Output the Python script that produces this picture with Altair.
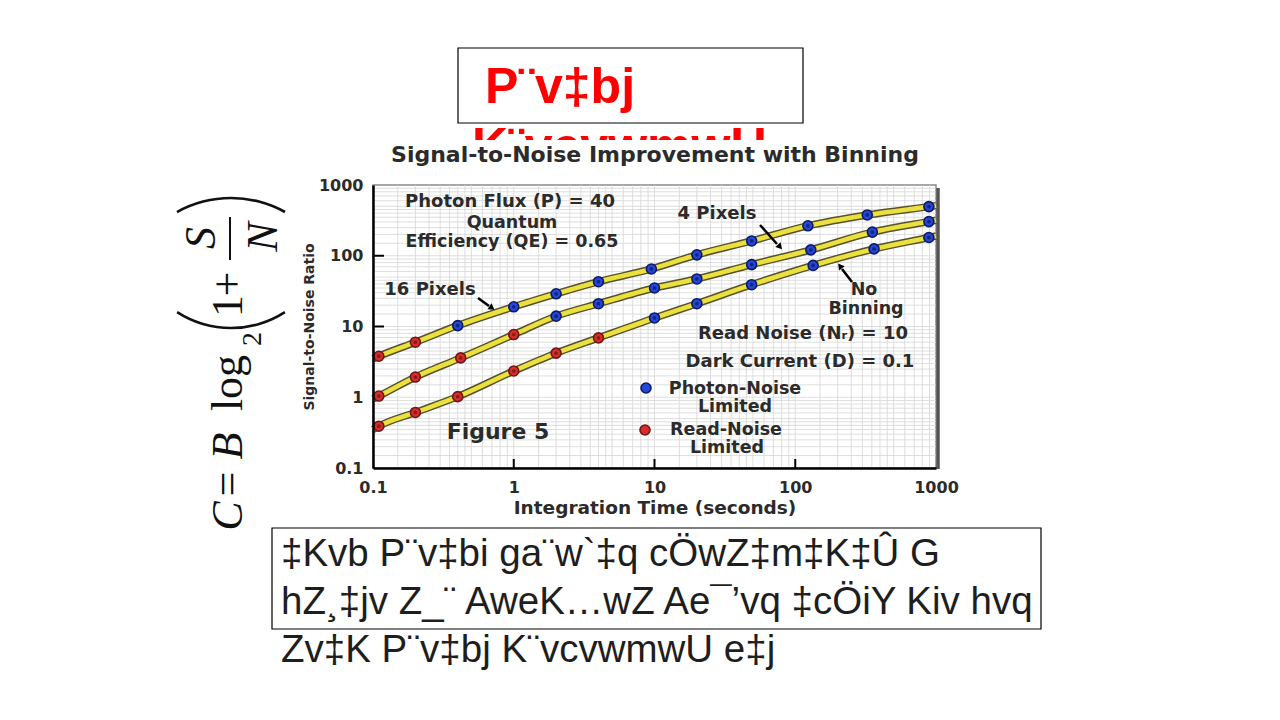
import altair as alt
import pandas as pd

# ---------------- data ----------------
series_names = ["No Binning", "4 Pixels", "16 Pixels"]

t_nobin = [0.11, 0.2, 0.4, 1, 2, 4, 10, 20, 49, 134, 363, 890]
snr_nobin = [0.39, 0.61, 1.02, 2.35, 4.2, 6.9, 13.2, 21, 39, 73, 125, 181]
kind_nobin = ["read", "read", "read", "read", "read", "read",
              "photon", "photon", "photon", "photon", "photon", "photon"]

t_4px = [0.11, 0.2, 0.42, 1, 2, 4, 10, 20, 49, 129, 353, 890]
snr_4px = [1.04, 1.93, 3.6, 7.7, 14, 21, 35, 47, 75, 121, 216, 304]
kind_4px = ["read", "read", "read", "read",
            "photon", "photon", "photon", "photon", "photon", "photon", "photon", "photon"]

t_16px = [0.11, 0.2, 0.4, 1, 2, 4, 9.5, 20, 49, 123, 325, 890]
snr_16px = [3.8, 6.0, 10.3, 19, 29, 43, 65, 103, 162, 265, 377, 495]
kind_16px = ["read", "read",
             "photon", "photon", "photon", "photon", "photon", "photon", "photon", "photon", "photon", "photon"]

line_start_t = 0.1
line_end_t = 1000
line_start_snr = [0.35, 0.95, 3.5]
line_end_snr = [190, 317, 511]

tick_values = [0.1, 1, 10, 100, 1000]
inner_ticks = [1, 10, 100]
grid_multipliers = [1, 1.5, 2, 2.5, 3, 3.5, 4, 4.5, 5, 6, 7, 8, 9]
grid_decades = [0.1, 1, 10, 100]

slide_title_1 = "P¨v‡bj"
slide_title_2 = "K¨vcvwmwU"
chart_title = "Signal-to-Noise Improvement with Binning"
x_title = "Integration Time (seconds)"
y_title = "Signal-to-Noise Ratio"
body_lines = ["‡Kvb P¨v‡bi ga¨w`‡q cÖwZ‡m‡K‡Û G",
              "hZ¸‡jv Z_¨ AweK…wZ Ae¯’vq ‡cÖiY Kiv hvq",
              "Zv‡K P¨v‡bj K¨vcvwmwU e‡j"]

# ---------------- tables ----------------
rows_line, rows_mk = [], []
for name, ts, ss, ks, s0, s1 in zip(series_names,
                                    [t_nobin, t_4px, t_16px],
                                    [snr_nobin, snr_4px, snr_16px],
                                    [kind_nobin, kind_4px, kind_16px],
                                    line_start_snr, line_end_snr):
    rows_line.append({"series": name, "t": line_start_t, "snr": s0})
    for t, s, k in zip(ts, ss, ks):
        rows_line.append({"series": name, "t": t, "snr": s})
        rows_mk.append({"series": name, "t": t, "snr": s, "kind": k})
    rows_line.append({"series": name, "t": line_end_t, "snr": s1})
lines_df = pd.DataFrame(rows_line)
mk_df = pd.DataFrame(rows_mk)

grid_vals = [m * d for d in grid_decades for m in grid_multipliers if m * d > 0.1]
grid_df_x = pd.DataFrame({"gx": grid_vals})
grid_df_y = pd.DataFrame({"gy": grid_vals})
dummy = pd.DataFrame({"a": [0]})

# ---------------- styles ----------------
W, H = 563, 283
FONT = "DejaVu Sans"
TXT = "#2b2b2b"
xs = alt.Scale(type="log", domain=[0.1, 1000], nice=False)
ys = alt.Scale(type="log", domain=[0.1, 1000], nice=False)

xaxis = alt.Axis(values=tick_values, format="~g", grid=False, ticks=False,
                 labelPadding=11, labelFont=FONT, labelFontWeight="bold",
                 labelFontSize=16, labelColor=TXT, labelFlush=False,
                 domainColor="black", domainWidth=2.5, zindex=1,
                 title=x_title, titleFont=FONT, titleFontSize=18.5,
                 titleFontWeight="bold", titleColor=TXT, titlePadding=3)
yaxis = alt.Axis(values=tick_values, format="~g", grid=False, ticks=False,
                 labelPadding=10, labelFont=FONT, labelFontWeight="bold",
                 labelFontSize=16, labelColor=TXT, labelFlush=False,
                 domainColor="black", domainWidth=2.5, zindex=1,
                 title=y_title, titleFont=FONT, titleFontSize=14,
                 titleFontWeight="bold", titleColor=TXT, titlePadding=2)


def X(f):
    return alt.X(f, type="quantitative", scale=xs, axis=xaxis)


def Y(f):
    return alt.Y(f, type="quantitative", scale=ys, axis=yaxis)


def txt(s, x, y, size=17.5, font=FONT, weight="bold", color=TXT, align="center",
        baseline="middle", angle=0, style="normal"):
    return alt.Chart(dummy).mark_text(
        text=s, font=font, fontSize=size, fontWeight=weight, color=color,
        align=align, baseline=baseline, angle=angle, fontStyle=style
    ).encode(x=alt.value(x), y=alt.value(y))


def box(x1, x2, y1, y2, fill="white", stroke="black", sw=1.2):
    return alt.Chart(dummy).mark_rect(fill=fill, stroke=stroke, strokeWidth=sw).encode(
        x=alt.value(x1), x2=alt.value(x2), y=alt.value(y1), y2=alt.value(y2))


def seg(x1, y1, x2, y2, color="black", sw=2.5):
    return alt.Chart(dummy).mark_rule(color=color, strokeWidth=sw).encode(
        x=alt.value(x1), y=alt.value(y1), x2=alt.value(x2), y2=alt.value(y2))


def head(x, y, angle, size=50):
    return alt.Chart(dummy).mark_point(shape="triangle-up", filled=True, color="black",
                                       size=size, angle=angle, opacity=1).encode(
        x=alt.value(x), y=alt.value(y))


def arc(cx, cy, r, t1, t2, w=2.6):
    return alt.Chart(dummy).mark_arc(color="#111").encode(
        x=alt.value(cx), y=alt.value(cy), theta=alt.value(t1), theta2=alt.value(t2),
        radius=alt.value(r + w / 2), radius2=alt.value(r - w / 2))


# ---------------- slide elements ----------------
title_box = box(85, 430, -137, -62)
red1 = txt(slide_title_1, 112, -82, size=50, font="Liberation Sans", color="#ff0000",
           align="left", baseline="alphabetic")
red2 = txt(slide_title_2, 99, -22, size=50, font="Liberation Sans", color="#ff0000",
           align="left", baseline="alphabetic")
mask = box(0, 560, -45, -10, fill="white", stroke="white", sw=0)
ctitle = txt(chart_title, 282, -30, size=22)

# ---------------- plot ----------------
xgrid = alt.Chart(grid_df_x).mark_rule(color="#d6d6d6", strokeWidth=0.8).encode(x=X("gx"))
ygrid = alt.Chart(grid_df_y).mark_rule(color="#d6d6d6", strokeWidth=0.8).encode(y=Y("gy"))
xticks = alt.Chart(pd.DataFrame({"tx": inner_ticks})).mark_rule(color="black", strokeWidth=2).encode(
    x=X("tx"), y=alt.value(H), y2=alt.value(H - 9))
yticks = alt.Chart(pd.DataFrame({"ty": inner_ticks})).mark_rule(color="black", strokeWidth=2).encode(
    y=Y("ty"), x=alt.value(0), x2=alt.value(11))
shadow_r = seg(W + 2, 3, W + 2, H + 1, color="#555555", sw=3.5)

line_out = alt.Chart(lines_df).mark_line(interpolate="monotone", strokeWidth=7.5,
                                         color="#55522f").encode(
    x=X("t"), y=Y("snr"), detail="series:N")
line_in = alt.Chart(lines_df).mark_line(interpolate="monotone", strokeWidth=4.6,
                                        color="#ebe03c").encode(
    x=X("t"), y=Y("snr"), detail="series:N")
markers = alt.Chart(mk_df).mark_point(filled=True, size=100, strokeWidth=1.6, opacity=1).encode(
    x=X("t"), y=Y("snr"),
    fill=alt.Fill("kind:N", scale=alt.Scale(domain=["photon", "read"],
                                            range=["#2447d8", "#db2a2a"]), legend=None),
    stroke=alt.Stroke("kind:N", scale=alt.Scale(domain=["photon", "read"],
                                                range=["#0d1a66", "#6e1616"]), legend=None))
centers = alt.Chart(mk_df).mark_point(filled=True, size=14, opacity=1).encode(
    x=X("t"), y=Y("snr"),
    color=alt.Color("kind:N", scale=alt.Scale(domain=["photon", "read"],
                                              range=["#14237e", "#7a2414"]), legend=None))

# ---------------- annotations ----------------
ann = [
    txt("Photon Flux (P) = 40", 137, 17, size=18),
    txt("Quantum", 139, 38),
    txt("Efficiency (QE) = 0.65", 139, 57),
    txt("16 Pixels", 57, 105, size=18),
    txt("4 Pixels", 344, 29, size=18),
    txt("No", 491, 105),
    txt("Binning", 493, 124),
    txt("Read Noise (Nᵣ) = 10", 430, 149, size=18),
    txt("Dark Current (D) = 0.1", 427, 177, size=18),
    txt("Photon-Noise", 362, 204),
    txt("Limited", 362, 222),
    txt("Read-Noise", 353, 245),
    txt("Limited", 354, 263),
    txt("Figure 5", 125, 247, size=22),
    seg(105, 113, 116, 121), head(119, 123, 125),
    seg(387, 40, 404, 59), head(407, 62, 138),
    seg(479, 97, 469, 84), head(467, 81, 323),
    alt.Chart(dummy).mark_point(filled=True, size=100, color="#2447d8", stroke="#0d1a66",
                                strokeWidth=1.6, opacity=1).encode(x=alt.value(273), y=alt.value(203)),
    alt.Chart(dummy).mark_point(filled=True, size=100, color="#db2a2a", stroke="#6e1616",
                                strokeWidth=1.6, opacity=1).encode(x=alt.value(272), y=alt.value(245)),
]

# ---------------- formula (rotated) ----------------
SER = "Liberation Serif"


def ftxt(s, x, y, size=44, style="normal"):
    return txt(s, x, y, size=size, font=SER, weight="normal", color="#111", angle=270,
               baseline="alphabetic", style=style)


formula = [
    ftxt("C", -131, 331, style="italic"),
    ftxt("=", -131, 299),
    ftxt("B", -131, 261, style="italic"),
    ftxt("log", -131, 198),
    ftxt("2", -112, 154, size=28),
    ftxt("1", -131, 121),
    ftxt("+", -131, 99),
    ftxt("S", -158, 53, style="italic"),
    ftxt("N", -96, 52, style="italic"),
    seg(-143, 32, -143, 75, color="#111", sw=2),
    arc(-142, 44, 99, 2.566, 3.717),
    arc(-142, 124, 111, 5.775, 6.791),
]

# ---------------- body text ----------------
body = [box(-101, 668, 343, 444, fill="white", stroke="black", sw=1.2)]
for i, s in enumerate(body_lines):
    body.append(txt(s, -92, 381 + 48 * i, size=38.5, font="Liberation Sans", weight="normal",
                    color="#1e1e1e", align="left", baseline="alphabetic"))

chart = alt.layer(
    title_box, red1, red2, mask, ctitle,
    xgrid, ygrid, xticks, yticks, shadow_r,
    line_out, line_in, markers, centers,
    *ann, *formula, *body
).properties(
    width=W, height=H,
    autosize=alt.AutoSizeParams(type="none"),
    padding={"left": 365, "top": 177, "right": 336, "bottom": 244},
    background="white",
).configure_view(stroke="#8a8a8a", strokeWidth=1.5)

chart.save("out.html", embed_options={"renderer": "svg", "actions": False})
